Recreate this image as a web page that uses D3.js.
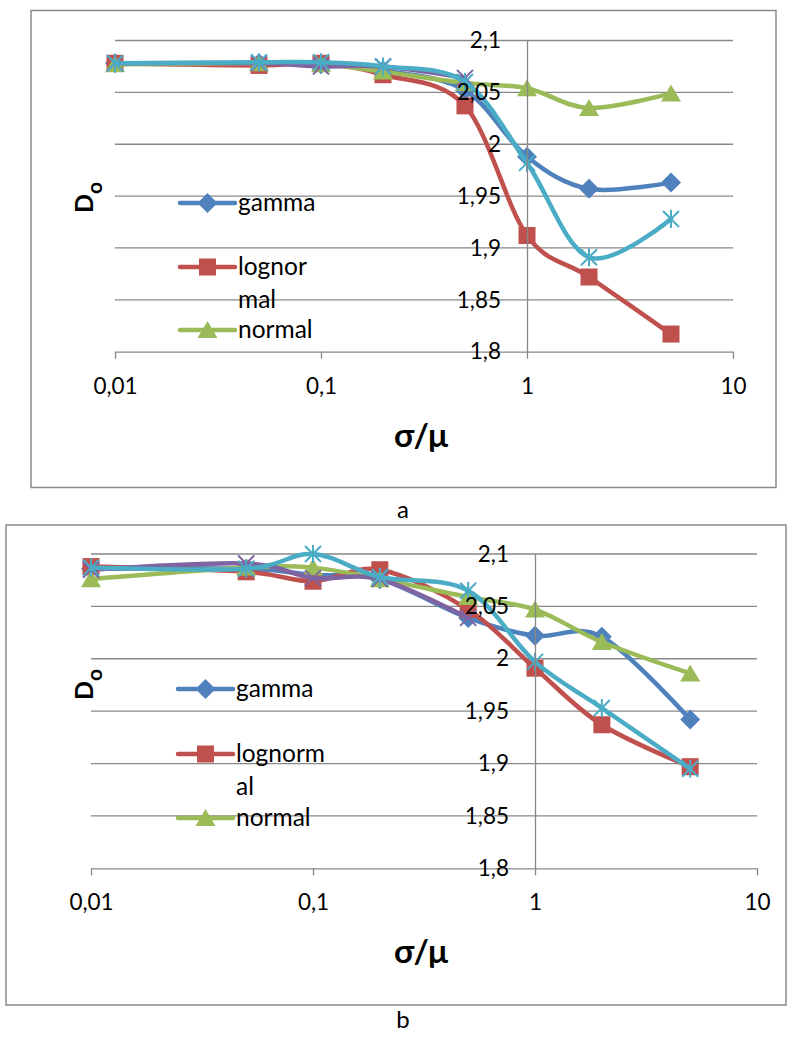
<!DOCTYPE html>
<html>
<head>
<meta charset="utf-8">
<script src="https://cdn.jsdelivr.net/npm/d3@7"></script>
<style>
  body { margin: 0; background: #fff; }
  text { font-family: Lato, "Open Sans", sans-serif; }
</style>
</head>
<body>
<div id="chart"></div>
<script>
// x values (σ/μ) shared by both panels
const sigmaMu = [0.01, 0.05, 0.1, 0.2, 0.5, 1, 2, 5];
const xTicks = [0.01, 0.1, 1, 10];
const yTicks = [1.8, 1.85, 1.9, 1.95, 2, 2.05, 2.1];

// panel a
const gammaA     = [2.078, 2.078, 2.077, 2.071, 2.052, 1.988, 1.957, 1.963];
const lognormalA = [2.078, 2.076, 2.078, 2.067, 2.037, 1.912, 1.872, 1.817];
const normalA    = [2.077, 2.078, 2.077, 2.070, 2.059, 2.054, 2.035, 2.049];
const series4A   = [2.078, 2.078, 2.075, 2.075, 2.064, null, null, null];
const series5A   = [2.078, 2.079, 2.079, 2.075, 2.060, 1.982, 1.891, 1.928];

// panel b
const gammaB     = [2.086, 2.086, 2.080, 2.076, 2.039, 2.022, 2.021, 1.942];
const lognormalB = [2.088, 2.083, 2.074, 2.085, 2.047, 1.991, 1.937, 1.897];
const normalB    = [2.076, 2.087, 2.087, 2.076, 2.059, 2.047, 2.016, 1.986];
const series4B   = [2.085, 2.091, 2.077, 2.076, 2.039, null, null, null];
const series5B   = [2.087, 2.086, 2.100, 2.078, 2.065, 1.997, 1.953, 1.895];

const legendA = [["gamma"], ["lognor", "mal"], ["normal"]];
const legendB = [["gamma"], ["lognorm", "al"], ["normal"]];

const colors  = ["#4F81BD", "#C0504D", "#9BBB59", "#8064A2", "#4BACC6"];
const markers = ["diamond", "square", "triangle", "x", "star"];

const locale = d3.formatLocale({decimal: ",", thousands: " ", grouping: [3], currency: ["", ""]});
const fmt = locale.format("~f");

const W = 787, H = 1037;
const svg = d3.select("#chart").append("svg")
    .attr("width", W).attr("height", H);

function drawMarker(g, type, cx, cy, color) {
  if (type == "square") {
    g.append("rect").attr("x", cx - 8.5).attr("y", cy - 8.5)
      .attr("width", 17).attr("height", 17).attr("fill", color);
  } else if (type == "diamond") {
    g.append("path").attr("d", `M${cx},${cy-10}L${cx+10},${cy}L${cx},${cy+10}L${cx-10},${cy}Z`)
      .attr("fill", color);
  } else if (type == "triangle") {
    g.append("path").attr("d", `M${cx},${cy-9}L${cx+10},${cy+8}L${cx-10},${cy+8}Z`)
      .attr("fill", color);
  } else {
    const r = 8;
    let d = `M${cx-r},${cy-r}L${cx+r},${cy+r}M${cx-r},${cy+r}L${cx+r},${cy-r}`;
    if (type == "star") d += `M${cx},${cy-r-1}L${cx},${cy+r+1}`;
    g.append("path").attr("d", d).attr("stroke", color)
      .attr("stroke-width", 2).attr("fill", "none");
  }
}

function drawPanel(p) {
  const g = svg.append("g");

  // chart frame
  g.append("rect")
    .attr("x", p.frame[0]).attr("y", p.frame[1])
    .attr("width", p.frame[2]).attr("height", p.frame[3])
    .attr("fill", "none").attr("stroke", "#8a8a8a").attr("stroke-width", 1.5);

  const x = d3.scaleLog().domain([0.01, 10]).range([p.left, p.right]);
  const y = d3.scaleLinear().domain([1.8, 2.1]).range([p.bottom, p.top]);

  // horizontal gridlines
  g.append("g").selectAll("line")
    .data(yTicks.slice(1))
    .join("line")
      .attr("x1", x(0.01)).attr("x2", x(10))
      .attr("y1", d => y(d)).attr("y2", d => y(d))
      .attr("stroke", "#878787").attr("stroke-width", 1.3);

  // x axis at the bottom
  const xAxis = g.append("g")
    .attr("transform", `translate(0,${y(1.8)})`)
    .call(d3.axisBottom(x).tickValues(xTicks).tickFormat(fmt)
      .tickSize(7).tickSizeOuter(0).tickPadding(19));

  // y axis crossing at x = 1
  const yAxis = g.append("g")
    .attr("transform", `translate(${x(1)},0)`)
    .call(d3.axisLeft(y).tickValues(yTicks).tickFormat(fmt)
      .tickSize(0).tickSizeOuter(0).tickPadding(26));

  [xAxis, yAxis].forEach(a => {
    a.attr("font-family", "Lato, 'Open Sans', sans-serif").attr("font-size", 22.5);
    a.selectAll("path, line").attr("stroke", "#878787").attr("stroke-width", 1.3);
    a.selectAll("text").attr("fill", "#000");
  });

  // series
  const line = d3.line()
    .defined(d => d.v != null)
    .x(d => x(d.x)).y(d => y(d.v))
    .curve(d3.curveCatmullRom.alpha(0));

  const sg = g.append("g");
  p.series.forEach((vals, i) => {
    const pts = sigmaMu.map((s, j) => ({x: s, v: vals[j]}));
    sg.append("path")
      .datum(pts)
      .attr("d", line)
      .attr("fill", "none")
      .attr("stroke", colors[i])
      .attr("stroke-width", 4.5)
      .attr("stroke-linejoin", "round")
      .attr("stroke-linecap", "round");
    pts.filter(d => d.v != null).forEach(d => drawMarker(sg, markers[i], x(d.x), y(d.v), colors[i]));
  });

  // axis labels on top of the series
  yAxis.raise();

  // legend
  const lg = g.append("g");
  p.legend.forEach((lbl, i) => {
    const ly = p.legendY[i];
    lg.append("line")
      .attr("x1", p.legendX).attr("x2", p.legendX + 55)
      .attr("y1", ly).attr("y2", ly)
      .attr("stroke", colors[i]).attr("stroke-width", 4.5)
      .attr("stroke-linecap", "round");
    drawMarker(lg, markers[i], p.legendX + 27.5, ly, colors[i]);
    const t = lg.append("text")
      .attr("x", p.legendX + 58).attr("y", ly + 8)
      .attr("font-size", 24.5).attr("fill", "#000");
    lbl.forEach((s, k) => {
      t.append("tspan").attr("x", p.legendX + 58).attr("dy", k ? 33 : 0).text(s);
    });
  });

  // axis titles
  const yt = g.append("text")
    .attr("transform", `translate(${p.yTitle[0]},${p.yTitle[1]}) rotate(-90)`)
    .attr("font-weight", "bold").attr("font-size", 25).attr("fill", "#000");
  yt.append("tspan").text("D");
  yt.append("tspan").attr("font-size", 21).attr("dy", 9).text("o");

  g.append("text")
    .attr("x", p.xTitle[0]).attr("y", p.xTitle[1])
    .attr("text-anchor", "middle")
    .attr("font-family", "'Open Sans', 'Noto Sans', sans-serif")
    .attr("font-weight", "bold").attr("font-size", 33).attr("fill", "#000")
    .text("σ/μ");

  // panel caption
  g.append("text")
    .attr("x", p.caption[0]).attr("y", p.caption[1])
    .attr("text-anchor", "middle")
    .attr("font-family", "'Liberation Serif', 'DejaVu Serif', serif")
    .attr("font-size", 24).attr("fill", "#000")
    .text(p.captionText);
}

drawPanel({
  frame: [31, 10.5, 745, 477],
  left: 115, right: 733, top: 40.5, bottom: 351.7,
  series: [gammaA, lognormalA, normalA, series4A, series5A],
  legend: legendA, legendX: 180, legendY: [203, 267, 330],
  yTitle: [93, 213], xTitle: [421, 447],
  caption: [403, 518], captionText: "a"
});

drawPanel({
  frame: [6, 525, 780, 480],
  left: 91, right: 757, top: 554, bottom: 868.3,
  series: [gammaB, lognormalB, normalB, series4B, series5B],
  legend: legendB, legendX: 178, legendY: [689, 754, 818],
  yTitle: [93, 700], xTitle: [421, 963],
  caption: [403, 1028], captionText: "b"
});
</script>
</body>
</html>
